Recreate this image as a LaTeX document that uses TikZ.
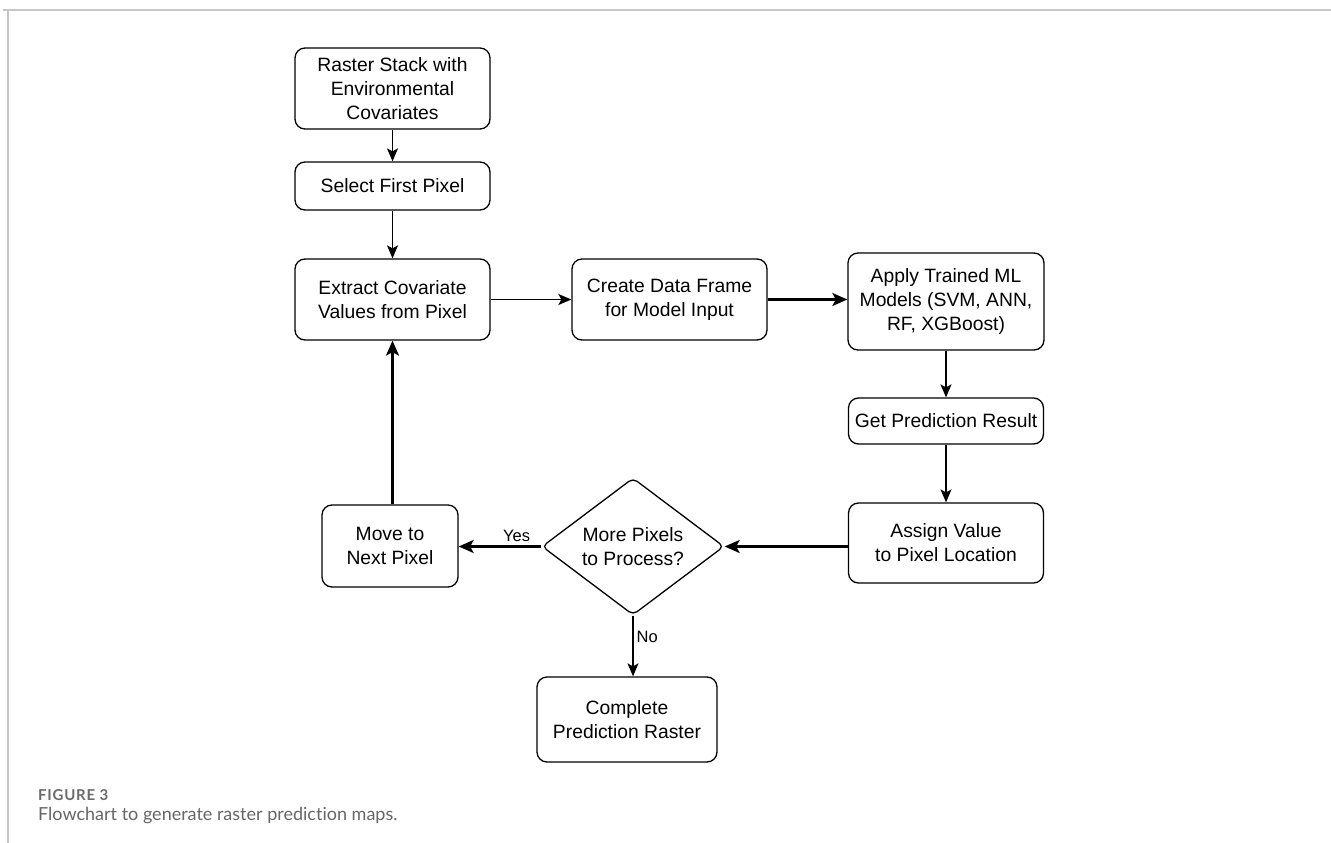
\documentclass[tikz,border=0pt]{standalone}
\usepackage{fontspec}
\setmainfont{Liberation Sans}
\newfontfamily\capfont[Ligatures=NoCommon]{Lato}
\newfontfamily\capfontwide[Ligatures=NoCommon,LetterSpace=5]{Lato}
\usetikzlibrary{shapes.geometric,arrows.meta}
\begin{document}
\begin{tikzpicture}[x=1pt,y=-1pt,
  box/.style={draw, rounded corners=10pt, line width=1.3pt, minimum width=195pt,
    minimum height=81pt, align=center, inner sep=0pt, font=\fontsize{19.3}{24}\selectfont},
  dec/.style={draw, diamond, aspect=1.33, rounded corners=5pt, line width=1.3pt,
    minimum width=182pt, minimum height=137pt, inner sep=0pt, align=center,
    font=\fontsize{19.3}{24}\selectfont},
  thin arrow/.style={line width=1.3pt, -{Stealth[length=13pt,width=11pt,inset=3pt]}},
  thick arrow/.style={line width=2.3pt, -{Stealth[length=15pt,width=13pt,inset=3.5pt]}},
  lbl/.style={font=\fontsize{16.5}{20}\selectfont, inner sep=1pt},
  frame/.style={draw=black!22, line width=1.3pt},
  capsmall/.style={anchor=west, text=black!58, font=\capfontwide\bfseries\fontsize{15}{18}\selectfont, inner sep=0pt},
  capbig/.style={anchor=west, text=black!60, font=\capfont\fontsize{18}{22}\selectfont, inner sep=0pt}
]
\useasboundingbox (0,0) rectangle (1331,843);
\draw[frame] (3,10) -- (1331,10);
\draw[frame] (8,10) -- (8,843);

\node[box] (raster) at (392.5,88.5) {Raster Stack with\\Environmental\\Covariates};
\node[box, minimum height=48pt] (select) at (392.5,186) {Select First Pixel};
\node[box] (extract) at (392.5,299.5) {Extract Covariate\\Values from Pixel};
\node[box] (create) at (669.5,299.5) {Create Data Frame\\for Model Input};
\node[box, minimum width=196pt, minimum height=97pt] (apply) at (946,301.5) {Apply Trained ML\\Models (SVM, ANN,\\RF, XGBoost)};
\node[box, minimum width=195pt, minimum height=46pt] (get) at (946,421) {Get Prediction Result};
\node[box, minimum width=195pt, minimum height=80pt] (assign) at (946,543) {Assign Value\\to Pixel Location};
\node[dec] (more) at (633,546.5) {More Pixels\\to Process?};
\node[box, minimum width=136pt, minimum height=82pt] (move) at (390,546) {Move to\\Next Pixel};
\node[box, minimum width=180pt, minimum height=85pt] (complete) at (627,719.5) {Complete\\Prediction Raster};

\draw[thin arrow] (raster) -- (select);
\draw[thin arrow] (select) -- (extract);
\draw[thin arrow] (extract) -- (create);
\draw[thick arrow] (create) -- (apply.west |- create.east);
\draw[thin arrow] (apply.south) -- (apply.south |- get.north);
\draw[thin arrow] (get.south) -- (get.south |- assign.north);
\draw[thick arrow] (more.east -| assign.west) -- (more.east);
\draw[thick arrow] (more.west) -- (more.west -| move.east) node[lbl, pos=0.3, above=3pt] {Yes};
\draw[thick arrow] (move.north -| extract.south) -- (extract.south);
\draw[thin arrow] (more.south) -- (more.south |- complete.north) node[lbl, pos=0.35, right=2pt] {No};

\node[capsmall] (fig) at (38,795) {FIGURE 3};
\node[capbig] (cap) at (38,816) {Flowchart to generate raster prediction maps.};
\end{tikzpicture}
\end{document}
